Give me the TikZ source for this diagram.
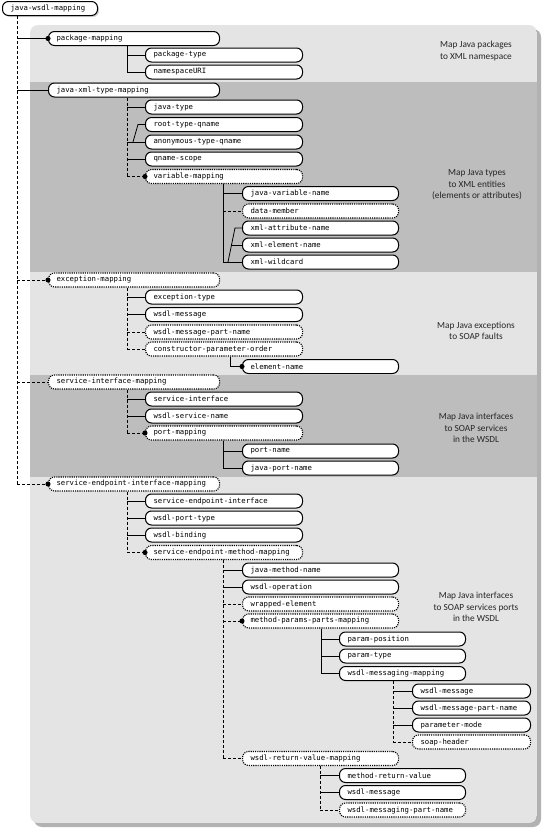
\documentclass[tikz,border=0pt]{standalone}
\usepackage{fontspec}
\newfontfamily\notefont{Carlito}
\newfontfamily\elemfont{DejaVu Sans Mono}
\usetikzlibrary{arrows.meta,positioning,calc,shadows}
\definecolor{bandlight}{gray}{0.895}
\definecolor{banddark}{gray}{0.74}

\begin{document}
\begin{tikzpicture}[
  x=1pt, y=-1pt,
  elem/.style={draw, line width=1pt, fill=white, rounded corners=6pt,
               minimum height=14pt, inner ysep=0pt, inner xsep=8pt,
               anchor=west, align=left, font=\fontsize{7.3}{8.5}\selectfont\elemfont},
  optelem/.style={elem, line width=1.1pt, dash pattern=on 1.1pt off 1.1pt},
  wroot/.style={text width=79pt},
  wone/.style={text width=155pt},
  wtwo/.style={text width=141pt},
  wthree/.style={text width=140pt},
  wfour/.style={text width=110pt},
  wfive/.style={text width=102pt},
  req/.style={line width=0.8pt},
  opt/.style={line width=0.8pt, dash pattern=on 3pt off 2pt},
  many/.style={-{Circle[length=5pt]}, shorten >=-2.5pt},
  note/.style={align=center, text=black!85, font=\notefont\fontsize{9.3}{11.5}\selectfont}
]
  \useasboundingbox (0,0) rectangle (547,833);

  % Grey panel with its bands
  \fill[gray!60, rounded corners=8pt] (34,29) rectangle (541,827);
  \begin{scope}
    \clip[rounded corners=8pt] (30,25) rectangle (537,823);
    \fill[bandlight] (30,25) rectangle (537,82);
    \fill[banddark] (30,82) rectangle (537,272);
    \fill[bandlight] (30,272) rectangle (537,375);
    \fill[banddark] (30,375) rectangle (537,477);
    \fill[bandlight] (30,477) rectangle (537,823);
  \end{scope}

  % Notes
  \node[note] (notepkg) at (476,51) {Map Java packages\\to XML namespace};
  \node[note] (notetype) at (477,185) {Map Java types\\to XML entities\\(elements or attributes)};
  \node[note] (noteexc) at (476,331) {Map Java exceptions\\to SOAP faults};
  \node[note] (noteintf) at (476,428) {Map Java interfaces\\to SOAP services\\in the WSDL};
  \node[note] (noteport) at (476,607) {Map Java interfaces\\to SOAP services ports\\in the WSDL};

  % Root
  \node[elem, wroot, drop shadow={shadow xshift=1.5pt, shadow yshift=-1.5pt, fill=gray!70}]
    (jwm) at (2,8.5) {java-wsdl-mapping};

  % First level
  \node[elem, wone] (pkg) at (48,38.5) {package-mapping};
  \node[elem, wone] (jxtm) at (48,90) {java-xml-type-mapping};
  \node[optelem, wone] (exm) at (48,280) {exception-mapping};
  \node[optelem, wone] (sim) at (48,382) {service-interface-mapping};
  \node[optelem, wone] (seim) at (48,484) {service-endpoint-interface-mapping};

  % Package mapping
  \node[elem, wtwo] (pkgtype) at (145,55) {package-type};
  \node[elem, wtwo] (nsuri) at (145,72) {namespaceURI};

  % Java XML type mapping
  \node[elem, wtwo] (jtype) at (145,107) {java-type};
  \node[elem, wtwo] (rtq) at (145,124.5) {root-type-qname};
  \node[elem, wtwo] (atq) at (145,142) {anonymous-type-qname};
  \node[elem, wtwo] (qscope) at (145,159) {qname-scope};
  \node[optelem, wtwo] (varmap) at (145,176.5) {variable-mapping};
  \node[elem, wthree] (jvn) at (242,193.5) {java-variable-name};
  \node[optelem, wthree] (dmem) at (242,211) {data-member};
  \node[elem, wthree] (xan) at (242,228) {xml-attribute-name};
  \node[elem, wthree] (xen) at (242,245) {xml-element-name};
  \node[elem, wthree] (xwc) at (242,262) {xml-wildcard};

  % Exception mapping
  \node[elem, wtwo] (exctype) at (145,297) {exception-type};
  \node[elem, wtwo] (excmsg) at (145,314.5) {wsdl-message};
  \node[optelem, wtwo] (excpart) at (145,332) {wsdl-message-part-name};
  \node[optelem, wtwo] (cpo) at (145,349) {constructor-parameter-order};
  \node[elem, wthree] (elname) at (242,366.5) {element-name};

  % Service interface mapping
  \node[elem, wtwo] (sintf) at (145,399) {service-interface};
  \node[elem, wtwo] (wsn) at (145,416) {wsdl-service-name};
  \node[optelem, wtwo] (portmap) at (145,433) {port-mapping};
  \node[elem, wthree] (pname) at (242,451) {port-name};
  \node[elem, wthree] (jpname) at (242,468) {java-port-name};

  % Service endpoint interface mapping
  \node[elem, wtwo] (seintf) at (145,501) {service-endpoint-interface};
  \node[elem, wtwo] (wptype) at (145,518) {wsdl-port-type};
  \node[elem, wtwo] (wbind) at (145,535) {wsdl-binding};
  \node[optelem, wtwo] (semm) at (145,552.5) {service-endpoint-method-mapping};
  \node[elem, wthree] (jmname) at (242,570) {java-method-name};
  \node[elem, wthree] (wop) at (242,587) {wsdl-operation};
  \node[optelem, wthree] (wrap) at (242,604) {wrapped-element};
  \node[optelem, wthree] (mppm) at (242,621) {method-params-parts-mapping};
  \node[elem, wfour] (ppos) at (339,639) {param-position};
  \node[elem, wfour] (ptype) at (339,656) {param-type};
  \node[elem, wfour] (wmm) at (339,673.5) {wsdl-messaging-mapping};
  \node[elem, wfive] (wmsg) at (412,691) {wsdl-message};
  \node[elem, wfive] (wmpart) at (412,708) {wsdl-message-part-name};
  \node[elem, wfive] (pmode) at (412,725) {parameter-mode};
  \node[optelem, wfive] (shead) at (412,742) {soap-header};
  \node[optelem, wthree] (wrvm) at (242,758.5) {wsdl-return-value-mapping};
  \node[elem, wfour] (mrv) at (339,775.5) {method-return-value};
  \node[elem, wfour] (rmsg) at (339,792.5) {wsdl-message};
  \node[optelem, wfour] (rpart) at (339,810) {wsdl-messaging-part-name};

  % Trunks
  \coordinate (troot) at ([xshift=15pt]jwm.south west);
  \coordinate (tpkg) at ([xshift=79pt]pkg.south west);
  \coordinate (tjxtm) at ([xshift=79pt]jxtm.south west);
  \coordinate (tvar) at ([xshift=78pt]varmap.south west);
  \coordinate (texm) at ([xshift=79pt]exm.south west);
  \coordinate (tcpo) at ([xshift=85pt]cpo.south west);
  \coordinate (tsim) at ([xshift=79pt]sim.south west);
  \coordinate (tport) at ([xshift=78pt]portmap.south west);
  \coordinate (tseim) at ([xshift=79pt]seim.south west);
  \coordinate (tsemm) at ([xshift=78pt]semm.south west);
  \coordinate (tmppm) at ([xshift=79pt]mppm.south west);
  \coordinate (twmm) at ([xshift=54pt]wmm.south west);
  \coordinate (twrvm) at ([xshift=78pt]wrvm.south west);

  % Root connectors
  \draw[opt] (troot) -- (troot |- seim.west);
  \draw[req, many] (troot |- pkg.west) -- (pkg.west);
  \draw[req] (troot |- jxtm.west) -- (jxtm.west);
  \draw[opt, many] (troot |- exm.west) -- (exm.west);
  \draw[opt] (troot |- sim.west) -- (sim.west);
  \draw[opt, many] (troot |- seim.west) -- (seim.west);

  % Package mapping connectors
  \draw[req] (tpkg) |- (nsuri.west);
  \draw[req] (tpkg |- pkgtype.west) -- (pkgtype.west);

  % Java XML type mapping connectors
  \draw[opt] (tjxtm) -- (tjxtm |- varmap.west);
  \draw[req] (tjxtm |- jtype.west) -- (jtype.west);
  \draw[req] (tjxtm |- atq.west) -- (atq.west);
  \draw[req] ($(tjxtm |- atq.west)+(6,0)$) -- ($(rtq.west)+(-7,0)$) -- (rtq.west);
  \draw[req] (tjxtm |- qscope.west) -- (qscope.west);
  \draw[opt, many] (tjxtm |- varmap.west) -- (varmap.west);
  \draw[req] (tvar) |- (xwc.west);
  \draw[req] (tvar |- jvn.west) -- (jvn.west);
  \draw[opt] (tvar |- dmem.west) -- (dmem.west);
  \coordinate (cxml) at ($(tvar |- xwc.west)+(5,0)$);
  \coordinate (cxan) at ($(xan.west)+(-7,0)$);
  \draw[req] (cxml) -- (cxan) -- (xan.west);
  \draw[req] ($(cxml)!0.5!(cxan)$) -- (xen.west);

  % Exception mapping connectors
  \draw[opt] (texm) -- (texm |- cpo.west);
  \draw[req] (texm |- exctype.west) -- (exctype.west);
  \draw[req] (texm |- excmsg.west) -- (excmsg.west);
  \draw[opt] (texm |- excpart.west) -- (excpart.west);
  \draw[opt] (texm |- cpo.west) -- (cpo.west);
  \draw[req, many] (tcpo) |- (elname.west);

  % Service interface mapping connectors
  \draw[opt] (tsim) -- (tsim |- portmap.west);
  \draw[req] (tsim |- sintf.west) -- (sintf.west);
  \draw[req] (tsim |- wsn.west) -- (wsn.west);
  \draw[opt, many] (tsim |- portmap.west) -- (portmap.west);
  \draw[req] (tport) |- (jpname.west);
  \draw[req] (tport |- pname.west) -- (pname.west);

  % Service endpoint interface mapping connectors
  \draw[opt] (tseim) -- (tseim |- semm.west);
  \draw[req] (tseim |- seintf.west) -- (seintf.west);
  \draw[req] (tseim |- wptype.west) -- (wptype.west);
  \draw[req] (tseim |- wbind.west) -- (wbind.west);
  \draw[opt, many] (tseim |- semm.west) -- (semm.west);
  \draw[opt] (tsemm) -- (tsemm |- wrvm.west);
  \draw[req] (tsemm |- jmname.west) -- (jmname.west);
  \draw[req] (tsemm |- wop.west) -- (wop.west);
  \draw[opt] (tsemm |- wrap.west) -- (wrap.west);
  \draw[opt, many] (tsemm |- mppm.west) -- (mppm.west);
  \draw[opt] (tsemm |- wrvm.west) -- (wrvm.west);
  \draw[req] (tmppm) |- (wmm.west);
  \draw[req] (tmppm |- ppos.west) -- (ppos.west);
  \draw[req] (tmppm |- ptype.west) -- (ptype.west);
  \draw[opt] (twmm) -- (twmm |- shead.west);
  \draw[req] (twmm |- wmsg.west) -- (wmsg.west);
  \draw[req] (twmm |- wmpart.west) -- (wmpart.west);
  \draw[req] (twmm |- pmode.west) -- (pmode.west);
  \draw[opt] (twmm |- shead.west) -- (shead.west);
  \draw[opt] (twrvm) -- (twrvm |- rpart.west);
  \draw[req] (twrvm |- mrv.west) -- (mrv.west);
  \draw[req] (twrvm |- rmsg.west) -- (rmsg.west);
  \draw[opt] (twrvm |- rpart.west) -- (rpart.west);
\end{tikzpicture}
\end{document}
